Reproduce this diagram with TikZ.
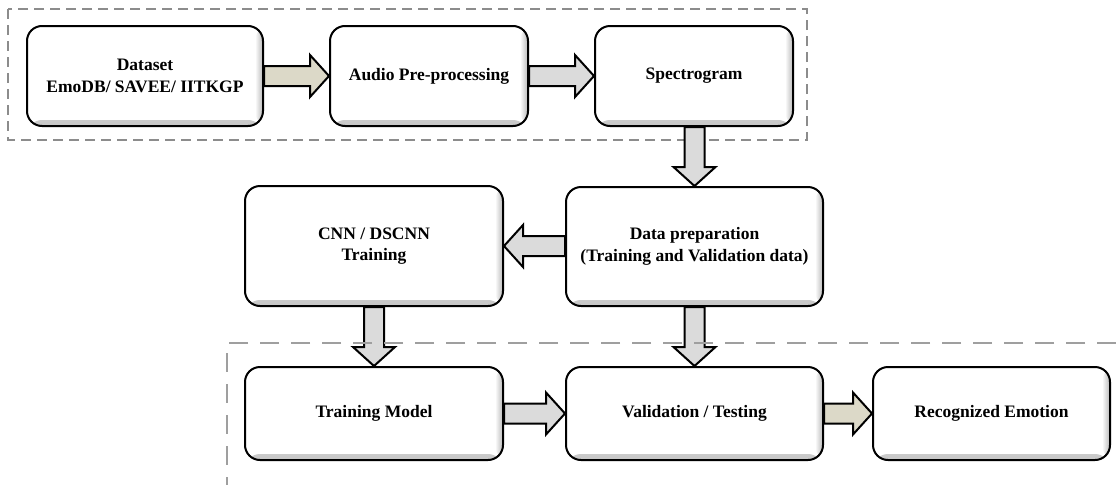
\documentclass[tikz,border=0pt]{standalone}
\usepackage{fontspec}
\setmainfont{Liberation Serif}
\usetikzlibrary{calc}
\tikzset{
  box/.style={draw=black, line width=2pt, rounded corners=15pt, fill=white,
    align=center, inner sep=0pt,
    font=\fontsize{17.5}{21.5}\selectfont\bfseries,
    path picture={
      \shade[top color=white, bottom color=black!22]
        ([yshift=6pt]path picture bounding box.south west) rectangle (path picture bounding box.south east);
      \shade[left color=white, right color=black!28]
        ([xshift=-8pt]path picture bounding box.north east) rectangle (path picture bounding box.south east);
    }},
  hgray/.style={draw=black, line width=2pt, line join=miter,
    top color=gray!28, middle color=gray!6, bottom color=gray!28},
  hbeige/.style={draw=black, line width=2pt, line join=miter,
    top color={rgb,255:red,220;green,217;blue,200}, middle color={rgb,255:red,246;green,245;blue,240},
    bottom color={rgb,255:red,220;green,217;blue,200}},
  vgray/.style={draw=black, line width=2pt, line join=miter,
    left color=gray!28, middle color=gray!6, right color=gray!28},
  frametop/.style={draw=gray!90, line width=1.3pt, dash pattern=on 10pt off 6pt},
  framebot/.style={draw=gray!75, line width=1.3pt, dash pattern=on 19pt off 12pt},
}
% right-pointing block arrow from #2 to tip #3
\newcommand{\rarrow}[3][hgray]{%
  \draw[#1] let \p1=(#2), \p2=(#3) in
    (\x1,\y2+10pt) -- (\x2-19pt,\y2+10pt) -- (\x2-19pt,\y2+21pt) -- (\x2,\y2)
    -- (\x2-19pt,\y2-21pt) -- (\x2-19pt,\y2-10pt) -- (\x1,\y2-10pt) -- cycle;}
% left-pointing block arrow
\newcommand{\larrow}[3][hgray]{%
  \draw[#1] let \p1=(#2), \p2=(#3) in
    (\x1,\y2+10pt) -- (\x2+19pt,\y2+10pt) -- (\x2+19pt,\y2+21pt) -- (\x2,\y2)
    -- (\x2+19pt,\y2-21pt) -- (\x2+19pt,\y2-10pt) -- (\x1,\y2-10pt) -- cycle;}
% down-pointing block arrow
\newcommand{\darrow}[3][vgray]{%
  \draw[#1] let \p1=(#2), \p2=(#3) in
    (\x2-10pt,\y1) -- (\x2-10pt,\y2+19pt) -- (\x2-21pt,\y2+19pt) -- (\x2,\y2)
    -- (\x2+21pt,\y2+19pt) -- (\x2+10pt,\y2+19pt) -- (\x2+10pt,\y1) -- cycle;}
\begin{document}
\begin{tikzpicture}[x=1pt, y=-1pt]
  \useasboundingbox (0,0) rectangle (1116,485);
  \fill[white] (0,0) rectangle (1116,485);

  % dashed frame round the input stage
  \draw[frametop] (8,9) rectangle (807,140);

  % nodes
  \node[box, minimum width=236pt, minimum height=100pt] (ds) at (145,76) {Dataset\\EmoDB/ SAVEE/ IITKGP};
  \node[box, minimum width=198pt, minimum height=100pt] (ap) at (429,76) {Audio Pre-processing};
  \node[box, minimum width=198pt, minimum height=100pt] (sp) at (694,76) {Spectrogram};
  \node[box, minimum width=257pt, minimum height=119pt] (dp) at (694.5,246.5) {Data preparation\\(Training and Validation data)};
  \node[box, minimum width=258pt, minimum height=120pt] (cnn) at (374,246) {CNN / DSCNN\\Training};
  \node[box, minimum width=258pt, minimum height=93pt] (tm) at (374,413.5) {Training Model};
  \node[box, minimum width=257pt, minimum height=93pt] (vt) at (694.5,413.5) {Validation / Testing};
  \node[box, minimum width=237pt, minimum height=93pt] (re) at (991.5,413.5) {Recognized Emotion};

  % connectors
  \rarrow[hbeige]{ds.east}{ap.west}
  \rarrow{ap.east}{sp.west}
  \darrow{sp.south}{dp.north}
  \larrow{dp.west}{cnn.east}
  \darrow{cnn.south}{tm.north}
  \darrow{dp.south}{vt.north}
  \rarrow{tm.east}{vt.west}
  \rarrow[hbeige]{vt.east}{re.west}

  % dashed frame round the output stage (runs off the page)
  \draw[framebot] (1116,343) -- (227,343) -- (227,485);
\end{tikzpicture}
\end{document}
